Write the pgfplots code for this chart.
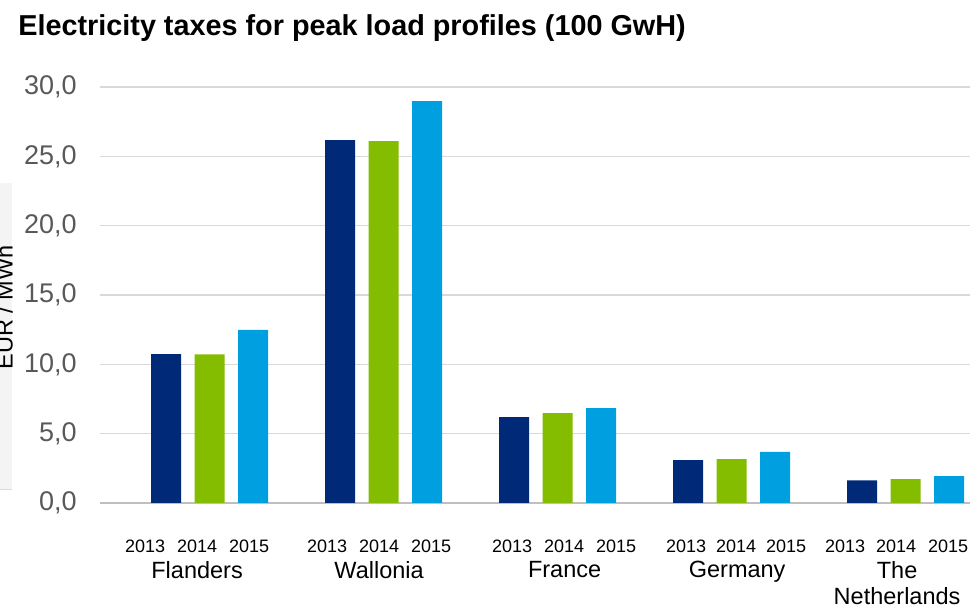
\documentclass[border=0pt]{standalone}
\usepackage{fontspec}
\setmainfont{Liberation Sans}
\usepackage{pgfplots}
\usepackage{pgfplotstable}
\pgfplotsset{compat=1.18}

\definecolor{navy}{HTML}{002A78}
\definecolor{lime}{HTML}{84BD00}
\definecolor{sky}{HTML}{00A0E0}
\definecolor{gridgray}{HTML}{D9D9D9}
\definecolor{axisgray}{HTML}{BFBFBF}
\definecolor{ticktext}{HTML}{595959}
\definecolor{panel}{HTML}{F4F4F4}

% group index: 0 Flanders, 1 Wallonia, 2 France, 3 Germany, 4 The Netherlands
\pgfplotstableread{
g v
0 10.74
1 26.17
2 6.20
3 3.10
4 1.64
}\yrA
\pgfplotstableread{
g v
0 10.72
1 26.10
2 6.49
3 3.17
4 1.72
}\yrB
\pgfplotstableread{
g v
0 12.48
1 28.98
2 6.85
3 3.68
4 1.94
}\yrC

\begin{document}
\begin{tikzpicture}
% faint panel behind the (cut off) y label
\fill[panel] (-50pt,6.5pt) rectangle (-44pt,160pt);
\draw[gridgray, line width=0.5pt] (-50pt,6.5pt) -- (-44pt,6.5pt);
\begin{axis}[
    scale only axis,
    width=435pt, height=208pt,
    xmin=-0.63, xmax=4.37,
    ymin=0, ymax=30,
    ybar, bar width=0.172,
    axis lines*=left,
    y axis line style={draw=none},
    x axis line style={draw=axisgray, line width=1pt},
    ymajorgrids,
    grid style={draw=gridgray, line width=0.75pt},
    major tick length=0pt,
    ytick={0,5,...,30},
    yticklabel style={font=\fontsize{13.5}{16}\selectfont, text=ticktext,
        inner sep=0pt, xshift=-11.5pt,
        /pgf/number format/fixed, /pgf/number format/fixed zerofill,
        /pgf/number format/precision=1, /pgf/number format/use comma,
        /pgf/number format/assume math mode=true},
    % year labels sit on their own category row, not under the bars
    xtick={-0.371,-0.072,0.227, 0.675,0.974,1.273, 1.739,2.037,2.336,
           2.739,3.026,3.313, 3.652,3.945,4.244},
    xticklabels={2013,2014,2015,2013,2014,2015,2013,2014,2015,2013,2014,2015,2013,2014,2015},
    xticklabel style={font=\fontsize{9}{11}\selectfont, anchor=north, inner sep=0pt, yshift=-18.5pt},
    extra x ticks={-0.072,0.974,2.040,3.032,3.951},
    extra x tick labels={Flanders,Wallonia,France,Germany,The\\Netherlands},
    extra x tick style={grid=none, xticklabel style={font=\fontsize{11.75}{13}\selectfont, align=center, yshift=-10.5pt}},
    ylabel={EUR / MWh},
    ylabel style={at={(axis description cs:-0.110,0.47)}, anchor=center,
        font=\fontsize{11.75}{14}\selectfont},
    title={Electricity taxes for peak load profiles (100 GwH)},
    title style={at={(axis description cs:-0.0943,1.113)}, anchor=west,
        inner sep=0pt, font=\bfseries\fontsize{14.4}{17}\selectfont},
]
\addplot[fill=navy, draw=none, bar shift=-0.25] table[x=g, y=v] {\yrA};
\addplot[fill=lime, draw=none, bar shift=0] table[x=g, y=v] {\yrB};
\addplot[fill=sky, draw=none, bar shift=0.25] table[x=g, y=v] {\yrC};
\end{axis}
\pgfresetboundingbox
\path[use as bounding box] (-50pt,-53pt) rectangle (435pt,251.5pt);
\end{tikzpicture}
\end{document}
